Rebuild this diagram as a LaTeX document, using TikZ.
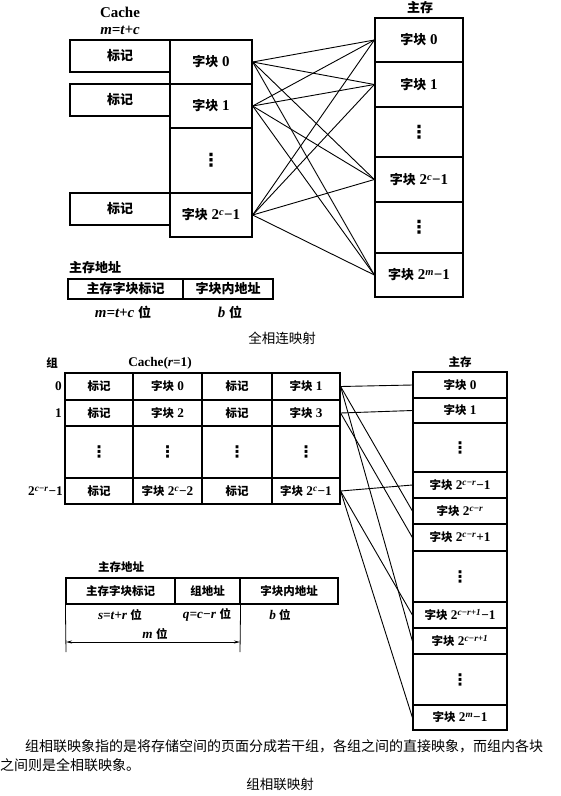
\documentclass[tikz,border=0pt]{standalone}
\usepackage{fontspec}
\setmainfont{Liberation Serif}[Scale=1.15]
\newfontfamily\cjk{Noto Sans CJK SC}
\newfontfamily\djv{DejaVu Sans}
\usetikzlibrary{arrows.meta}
\newcommand{\zk}{{\cjk 字块}\ }
\newcommand{\pw}[1]{2\textsuperscript{\textit{#1}}}
\newcommand{\vd}[1]{{\djv\fontsize{#1}{#1}\selectfont ⋮}}
\newcommand{\mn}{−}
\begin{document}
\begin{tikzpicture}[x=1pt,y=-1pt,
  cellA/.style={draw,line width=1.3pt,inner sep=0pt,font=\fontsize{13}{15}\selectfont\bfseries},
  cellB/.style={draw,line width=1.2pt,inner sep=0pt,font=\fontsize{11.5}{13}\selectfont\bfseries},
  conn/.style={line width=0.9pt},
  lblA/.style={inner sep=0pt,font=\fontsize{13}{15}\selectfont\bfseries},
  lblB/.style={inner sep=0pt,font=\fontsize{11.5}{13}\selectfont\bfseries},
  capt/.style={inner sep=0pt,font=\fontsize{13.5}{16}\selectfont\cjk}]
\useasboundingbox[fill=white] (0,0) rectangle (561,796);

% ---------- top: fully associative ----------
\node[lblA] (cachet) at (120,12) {Cache};
\node[lblA] (mtc) at (120,30) {\textit{m=t+c}};
\node[cellA,minimum width=100pt,minimum height=32pt] (t0) at (120,56) {\cjk 标记};
\node[cellA,minimum width=100pt,minimum height=32pt] (t1) at (120,100) {\cjk 标记};
\node[cellA,minimum width=100pt,minimum height=32pt] (t2) at (120,209) {\cjk 标记};
\node[cellA,minimum width=82pt,minimum height=44pt] (b0) at (211,62) {\zk 0};
\node[cellA,minimum width=82pt,minimum height=44pt] (b1) at (211,106) {\zk 1};
\node[cellA,minimum width=82pt,minimum height=65pt] (bd) at (211,160.5) {\vd{18}};
\node[cellA,minimum width=82pt,minimum height=44pt] (b2) at (211,215) {\zk \pw{c}\mn1};

\node[lblA] (zcA) at (420,8) {\cjk 主存};
\node[cellA,minimum width=88pt,minimum height=44pt] (m0) at (419,40) {\zk 0};
\node[cellA,minimum width=88pt,minimum height=45pt] (m1) at (419,84.5) {\zk 1};
\node[cellA,minimum width=88pt,minimum height=50pt] (md1) at (419,132) {\vd{18}};
\node[cellA,minimum width=88pt,minimum height=45pt] (m2) at (419,179.5) {\zk \pw{c}\mn1};
\node[cellA,minimum width=88pt,minimum height=51pt] (md2) at (419,227.5) {\vd{18}};
\node[cellA,minimum width=88pt,minimum height=44pt] (m3) at (419,275) {\zk \pw{m}\mn1};

\foreach \s in {b0,b1,b2}{
  \foreach \d in {m0,m1,m2,m3}{
    \draw[conn] (\s.east) -- (\d.west);
  }
}

\node[lblA,anchor=west] (zzA) at (69,268) {\cjk 主存地址};
\node[cellA,minimum width=115pt,minimum height=20pt] (a1) at (125.5,289) {\cjk 主存字块标记};
\node[cellA,minimum width=90pt,minimum height=20pt] (a2) at (228,289) {\cjk 字块内地址};
\node[lblA] (a1l) at (123,312) {\textit{m=t+c} {\cjk 位}};
\node[lblA] (a2l) at (230,312) {\textit{b} {\cjk 位}};
\node[capt] (cap1) at (282,338) {全相连映射};

% ---------- bottom: set associative ----------
\node[lblB] (zu) at (52,363) {\cjk 组};
\node[lblB] (cacheb) at (160,363) {Cache(\textit{r}=1)};
\node[lblB] (zcB) at (460,362) {\cjk 主存};

\node[cellB,minimum width=68pt,minimum height=27pt] (g00) at (99,386.5) {\cjk 标记};
\node[cellB,minimum width=69pt,minimum height=27pt] (g01) at (167.5,386.5) {\zk 0};
\node[cellB,minimum width=70pt,minimum height=27pt] (g02) at (237,386.5) {\cjk 标记};
\node[cellB,minimum width=68pt,minimum height=27pt] (g03) at (306,386.5) {\zk 1};
\node[cellB,minimum width=68pt,minimum height=26pt] (g10) at (99,413) {\cjk 标记};
\node[cellB,minimum width=69pt,minimum height=26pt] (g11) at (167.5,413) {\zk 2};
\node[cellB,minimum width=70pt,minimum height=26pt] (g12) at (237,413) {\cjk 标记};
\node[cellB,minimum width=68pt,minimum height=26pt] (g13) at (306,413) {\zk 3};
\node[cellB,minimum width=68pt,minimum height=52pt] (g20) at (99,452) {\vd{16}};
\node[cellB,minimum width=69pt,minimum height=52pt] (g21) at (167.5,452) {\vd{16}};
\node[cellB,minimum width=70pt,minimum height=52pt] (g22) at (237,452) {\vd{16}};
\node[cellB,minimum width=68pt,minimum height=52pt] (g23) at (306,452) {\vd{16}};
\node[cellB,minimum width=68pt,minimum height=26pt] (g30) at (99,491) {\cjk 标记};
\node[cellB,minimum width=69pt,minimum height=26pt] (g31) at (167.5,491) {\zk \pw{c}\mn2};
\node[cellB,minimum width=70pt,minimum height=26pt] (g32) at (237,491) {\cjk 标记};
\node[cellB,minimum width=68pt,minimum height=26pt] (g33) at (306,491) {\zk \pw{c}\mn1};

\node[lblB,anchor=east] (r0) at (62,386.5) {0};
\node[lblB,anchor=east] (r1) at (62,413) {1};
\node[lblB,anchor=east] (r3) at (63,491) {\pw{c\mn r}\mn1};

\node[cellB,minimum width=94pt,minimum height=26pt] (n0) at (460,385) {\zk 0};
\node[cellB,minimum width=94pt,minimum height=25pt] (n1) at (460,410.5) {\zk 1};
\node[cellB,minimum width=94pt,minimum height=49pt] (nd1) at (460,447.5) {\vd{16}};
\node[cellB,minimum width=94pt,minimum height=26pt] (n2) at (460,485) {\zk \pw{c\mn r}\mn1};
\node[cellB,minimum width=94pt,minimum height=26pt] (n3) at (460,511) {\zk \pw{c\mn r}};
\node[cellB,minimum width=94pt,minimum height=27pt] (n4) at (460,537.5) {\zk \pw{c\mn r}+1};
\node[cellB,minimum width=94pt,minimum height=51pt] (nd2) at (460,576.5) {\vd{16}};
\node[cellB,minimum width=94pt,minimum height=26pt] (n5) at (460,615) {\zk \pw{c\mn r+1}\mn1};
\node[cellB,minimum width=94pt,minimum height=26pt] (n6) at (460,641) {\zk \pw{c\mn r+1}};
\node[cellB,minimum width=94pt,minimum height=51pt] (nd3) at (460,679.5) {\vd{16}};
\node[cellB,minimum width=94pt,minimum height=25pt] (n7) at (460,717.5) {\zk \pw{m}\mn1};

\foreach \d in {n0,n3,n6} \draw[conn] (g03.east) -- (\d.west);
\foreach \d in {n1,n4} \draw[conn] (g13.east) -- (\d.west);
\foreach \d in {n2,n5,n7} \draw[conn] (g33.east) -- (\d.west);

\node[lblB] (zzB) at (121,567) {\cjk 主存地址};
\node[cellB,minimum width=109pt,minimum height=26pt] (c1) at (120.5,591) {\cjk 主存字块标记};
\node[cellB,minimum width=65pt,minimum height=26pt] (c2) at (207.5,591) {\cjk 组地址};
\node[cellB,minimum width=98pt,minimum height=26pt] (c3) at (289,591) {\cjk 字块内地址};
\node[lblB] (c1l) at (120,615) {\textit{s=t+r} {\cjk 位}};
\node[lblB] (c2l) at (207,615) {\textit{q=c\mn r} {\cjk 位}};
\node[lblB] (c3l) at (280,615) {\textit{b} {\cjk 位}};
\node[lblB] (ml) at (155,634) {\textit{m} {\cjk 位}};
\coordinate (tk1) at (66,652);
\coordinate (tk2) at (240,652);
\coordinate (ar1) at (66,642);
\coordinate (ar2) at (240,642);
\draw[line width=0.8pt] (c1.south west) -- (tk1);
\draw[line width=0.8pt] (c2.south east) -- (tk2);
\draw[line width=0.8pt,{Stealth[length=6pt,width=3pt]}-{Stealth[length=6pt,width=3pt]}] (ar1) -- (ar2);

% ---------- text ----------
\node[capt,font=\fontsize{14}{16}\selectfont\cjk,anchor=west] (p1) at (25,746) {组相联映象指的是将存储空间的页面分成若干组，各组之间的直接映象，而组内各块};
\node[capt,font=\fontsize{14}{16}\selectfont\cjk,anchor=west] (p2) at (0,765) {之间则是全相联映象。};
\node[capt] (cap2) at (280,784) {组相联映射};
\end{tikzpicture}
\end{document}
